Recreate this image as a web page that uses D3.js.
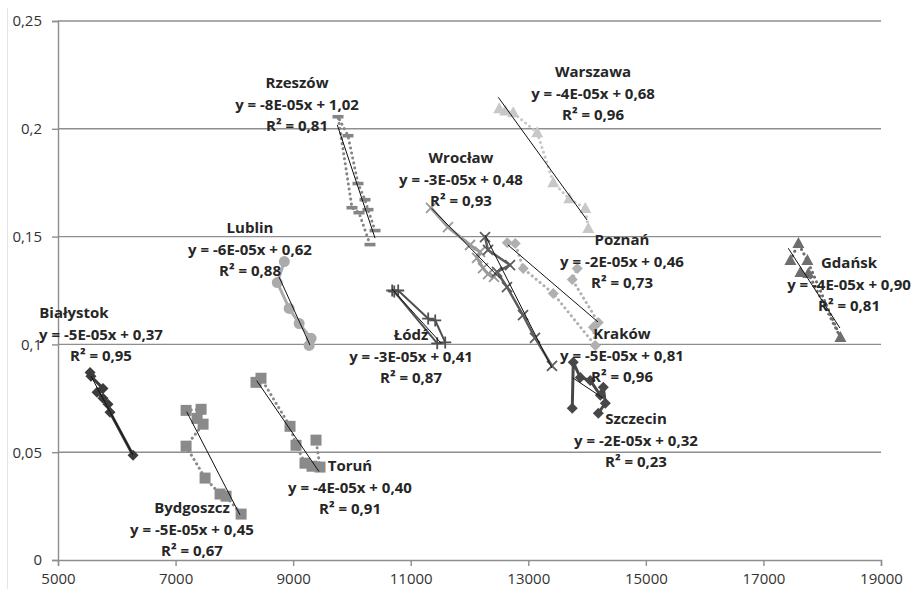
<!DOCTYPE html>
<html>
<head>
<meta charset="utf-8">
<script src="https://cdn.jsdelivr.net/npm/d3@7"></script>
<style>
  body { margin: 0; background: #fff; }
  svg text { font-family: "Open Sans", sans-serif; }
</style>
</head>
<body>
<div id="chart"></div>
<script>

// city series, [x, y] pairs
var bialystok = [[5545, 0.087], [5560, 0.0852], [5766, 0.0796], [5664, 0.0778],
  [5766, 0.075], [5851, 0.0722], [5885, 0.0685], [6277, 0.0486]];
var bydgoszcz = [[7179, 0.0694], [7434, 0.0699], [7366, 0.0657], [7468, 0.063],
  [7179, 0.0528], [7502, 0.038], [7757, 0.0306], [7859, 0.0296], [8115, 0.0213]];
var torun = [[8368, 0.0824], [8453, 0.0843], [8947, 0.062], [9049, 0.0532],
  [9202, 0.0449], [9321, 0.0435], [9457, 0.0431], [9389, 0.0556]];
var lublin = [[8850, 0.1384], [8730, 0.1287], [8932, 0.1167], [9102, 0.1097],
  [9306, 0.1028], [9272, 0.0995]];
var rzeszow = [[10307, 0.1463], [10120, 0.1611], [10001, 0.1634], [9763, 0.2056],
  [9933, 0.1968], [10103, 0.1746], [10222, 0.1671], [10273, 0.1625], [10393, 0.1528]];
var warszawa = [[12506, 0.2093], [12608, 0.2083], [12744, 0.2074], [13152, 0.1982],
  [13425, 0.175], [13697, 0.1676], [13970, 0.163], [14021, 0.1537]];
var wroclaw = [[11345, 0.1633], [11634, 0.1544], [12009, 0.1461], [12179, 0.1429],
  [12128, 0.1401], [12230, 0.1354], [12315, 0.1326], [12417, 0.1313]];
var lodz = [[10685, 0.125], [10787, 0.125], [11297, 0.112], [11417, 0.1111],
  [11587, 0.1009], [11451, 0.1005], [10720, 0.1245]];
var krakow = [[12264, 0.1498], [12315, 0.1438], [12689, 0.1368], [12468, 0.1336],
  [12638, 0.1266], [12910, 0.1136], [13114, 0.103], [13403, 0.09]];
var poznan = [[12642, 0.1472], [12778, 0.1468], [12914, 0.1352], [13425, 0.1236],
  [14140, 0.0995], [14106, 0.1079], [14191, 0.1102], [13748, 0.1301], [13833, 0.1352]];
var szczecin = [[13748, 0.0704], [13765, 0.0917], [13884, 0.0847], [14054, 0.0833],
  [14225, 0.0764], [14276, 0.0801], [14310, 0.0727], [14191, 0.0681]];
var gdansk = [[17459, 0.1389], [17595, 0.1468], [17748, 0.1389], [18310, 0.1032],
  [17765, 0.1329], [17629, 0.1334]];

var cities = ["Białystok", "Bydgoszcz", "Toruń", "Lublin", "Rzeszów", "Warszawa",
  "Wrocław", "Łódź", "Kraków", "Poznań", "Szczecin", "Gdańsk"];
var series = [bialystok, bydgoszcz, torun, lublin, rzeszow, warszawa,
  wroclaw, lodz, krakow, poznan, szczecin, gdansk];

var equations = ["y = -5E-05x + 0,37", "y = -5E-05x + 0,45", "y = -4E-05x + 0,40",
  "y = -6E-05x + 0,62", "y = -8E-05x + 1,02", "y = -4E-05x + 0,68",
  "y = -3E-05x + 0,48", "y = -3E-05x + 0,41", "y = -5E-05x + 0,81",
  "y = -2E-05x + 0,46", "y = -2E-05x + 0,32", "y = -4E-05x + 0,90"];
var rSquared = ["0,95", "0,67", "0,91", "0,88", "0,81", "0,96",
  "0,93", "0,87", "0,96", "0,73", "0,23", "0,81"];

// trendline ends as drawn
var trendFrom = [[5561, 0.0853], [7189, 0.0688], [8380, 0.0832], [8760, 0.1313],
  [9751, 0.2018], [12490, 0.2146], [11357, 0.1631], [10682, 0.1257],
  [12264, 0.1507], [12655, 0.1461], [13761, 0.0844], [17423, 0.1446]];
var trendTo = [[6276, 0.0487], [8096, 0.0209], [9440, 0.041], [9287, 0.0997],
  [10393, 0.1493], [13999, 0.1577], [12519, 0.1306], [11515, 0.1006],
  [13404, 0.089], [14186, 0.1104], [14271, 0.0751], [18301, 0.1076]];

var xTicks = [5000, 7000, 9000, 11000, 13000, 15000, 17000, 19000];
var xTickLabels = ["5000", "7000", "9000", "11000", "13000", "15000", "17000", "19000"];
var yTicks = [0, 0.05, 0.1, 0.15, 0.2, 0.25];
var yTickLabels = ["0", "0,05", "0,1", "0,15", "0,2", "0,25"];

// look of each series (marker, colour, dotted or solid joining line)
var looks = [
  {color: "#3c3c3c", marker: "diamond", dotted: false, width: 3},
  {color: "#8a8a8a", marker: "square", dotted: true, width: 3},
  {color: "#8a8a8a", marker: "square", dotted: true, width: 3},
  {color: "#ababab", marker: "circle", dotted: false, width: 3},
  {color: "#858585", marker: "dash", dotted: true, width: 3},
  {color: "#c8c8c8", marker: "triangle", dotted: true, width: 3},
  {color: "#9a9a9a", marker: "times", dotted: false, width: 3},
  {color: "#505050", marker: "plus", dotted: false, width: 2},
  {color: "#5c5c5c", marker: "times", dotted: false, width: 2.5},
  {color: "#b0b0b0", marker: "diamond", dotted: true, width: 3},
  {color: "#474747", marker: "diamond", dotted: false, width: 3},
  {color: "#6e6e6e", marker: "triangle", dotted: true, width: 3}
];

// where each label block sits (centre of the city name line)
var labelAt = [[5731, 0.1146], [7279, 0.0241], [9967, 0.0436], [8266, 0.154],
  [9066, 0.2212], [14101, 0.2263], [11855, 0.1865], [11005, 0.1044],
  [14594, 0.1048], [14594, 0.1484], [14832, 0.0654], [18456, 0.1377]];
// sideways nudge of the name line, px
var nameShift = [-27, 0, 0, 0, 0, 0, 0, 0, 0, 0, 0, 0];

var width = 913;
var height = 589;

var x = d3.scaleLinear().domain([5000, 19000]).range([58, 881]);
var y = d3.scaleLinear().domain([0, 0.25]).range([560, 21]);

var svg = d3.select("#chart")
  .append("svg")
  .attr("width", width)
  .attr("height", height);

// faint frame line on the left
svg.append("line")
  .attr("x1", 7.5).attr("x2", 7.5)
  .attr("y1", 8).attr("y2", height)
  .style("stroke", "#e4e4e4")
  .style("stroke-width", 1);

// gridlines
svg.append("g")
  .selectAll("line")
  .data(yTicks.slice(1))
  .enter().append("line")
  .attr("x1", x(5000))
  .attr("x2", x(19000))
  .attr("y1", function(d) { return y(d); })
  .attr("y2", function(d) { return y(d); })
  .style("stroke", "#8e8e8e")
  .style("stroke-width", 1.4);

// axes
var xAxis = d3.axisBottom(x)
  .tickValues(xTicks)
  .tickSize(6)
  .tickPadding(7)
  .tickFormat(function(d, i) { return xTickLabels[i]; });

var yAxis = d3.axisLeft(y)
  .tickValues(yTicks)
  .tickSize(6)
  .tickPadding(10)
  .tickFormat(function(d, i) { return yTickLabels[i]; });

var gx = svg.append("g")
  .attr("transform", "translate(0," + y(0) + ")")
  .call(xAxis);

var gy = svg.append("g")
  .attr("transform", "translate(" + x(5000) + ",0)")
  .call(yAxis);

[gx, gy].forEach(function(g) {
  g.select(".domain").style("stroke", "#8e8e8e").style("stroke-width", 1.4);
  g.selectAll(".tick line").style("stroke", "#8e8e8e").style("stroke-width", 1.4);
  g.selectAll(".tick text")
    .style("font-size", "15px")
    .style("fill", "#333")
    .style("font-family", "'Open Sans', sans-serif");
});

var line = d3.line()
  .x(function(d) { return x(d[0]); })
  .y(function(d) { return y(d[1]); });

// joining lines
svg.append("g")
  .selectAll("path")
  .data(series)
  .enter().append("path")
  .attr("d", line)
  .style("fill", "none")
  .style("stroke", function(d, i) { return looks[i].color; })
  .style("stroke-width", function(d, i) { return looks[i].width; })
  .style("stroke-linejoin", "round")
  .style("stroke-linecap", "round")
  .style("stroke-dasharray", function(d, i) { return looks[i].dotted ? "0.1,5" : null; });

// marker shapes
function markerPath(kind) {
  if (kind == "diamond") return "M0,-5.5L5.5,0L0,5.5L-5.5,0Z";
  if (kind == "square") return "M-5.5,-5.5H5.5V5.5H-5.5Z";
  if (kind == "triangle") return "M0,-6.5L6,4.5H-6Z";
  if (kind == "dash") return "M-5.5,-1.8H5.5V1.8H-5.5Z";
  if (kind == "times") return "M-5,-5L5,5M-5,5L5,-5";
  if (kind == "plus") return "M-6,0H6M0,-6V6";
  return d3.symbol().type(d3.symbolCircle).size(95)();
}

series.forEach(function(pts, i) {
  var look = looks[i];
  var stroked = look.marker == "times" || look.marker == "plus";
  svg.append("g")
    .selectAll("path")
    .data(pts)
    .enter().append("path")
    .attr("transform", function(d) { return "translate(" + x(d[0]) + "," + y(d[1]) + ")"; })
    .attr("d", markerPath(look.marker))
    .style("fill", stroked ? "none" : look.color)
    .style("stroke", stroked ? look.color : "none")
    .style("stroke-width", stroked ? 1.8 : 0);
});

// trendlines
svg.append("g")
  .selectAll("line")
  .data(trendFrom)
  .enter().append("line")
  .attr("x1", function(d) { return x(d[0]); })
  .attr("y1", function(d) { return y(d[1]); })
  .attr("x2", function(d, i) { return x(trendTo[i][0]); })
  .attr("y2", function(d, i) { return y(trendTo[i][1]); })
  .style("stroke", "#111")
  .style("stroke-width", 1);

// labels: name, equation, R²
var labels = svg.append("g")
  .selectAll("text")
  .data(cities)
  .enter().append("text")
  .attr("text-anchor", "middle")
  .attr("y", function(d, i) { return y(labelAt[i][1]); })
  .style("font-size", "15px")
  .style("font-weight", "bold")
  .style("fill", "#262626");

labels.append("tspan")
  .attr("x", function(d, i) { return x(labelAt[i][0]) + nameShift[i]; })
  .attr("dy", "0.35em")
  .text(function(d) { return d; });

labels.append("tspan")
  .attr("x", function(d, i) { return x(labelAt[i][0]); })
  .attr("dy", 21.5)
  .text(function(d, i) { return equations[i]; });

labels.append("tspan")
  .attr("x", function(d, i) { return x(labelAt[i][0]); })
  .attr("dy", 21.5)
  .text(function(d, i) { return "R² = " + rSquared[i]; });

</script>
</body>
</html>
